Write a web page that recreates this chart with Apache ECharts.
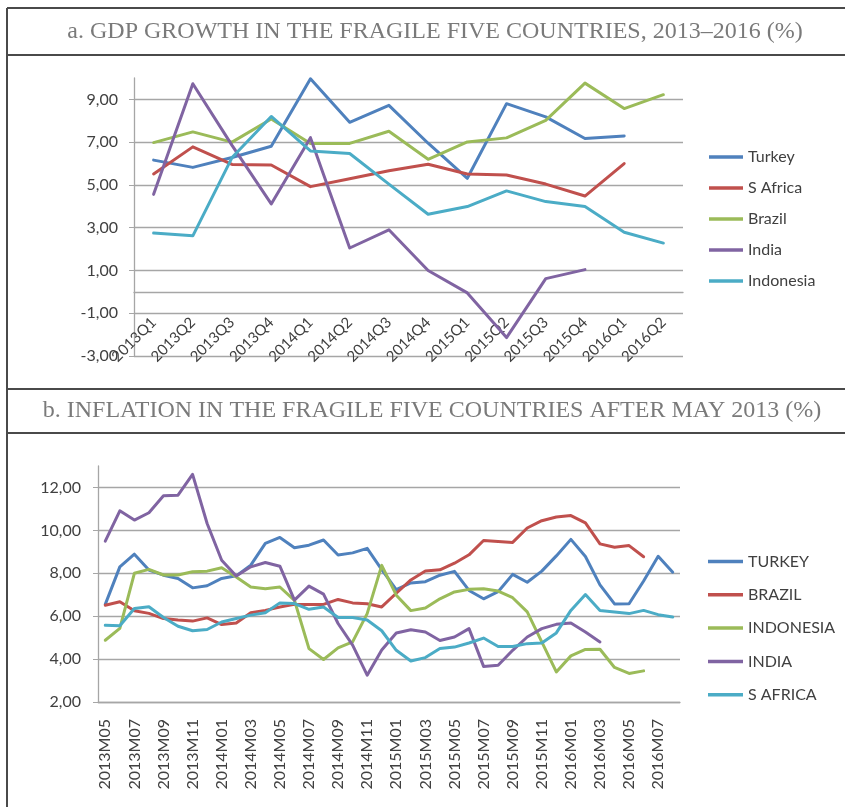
<!DOCTYPE html>
<html>
<head>
<meta charset="utf-8">
<script src="https://cdn.jsdelivr.net/npm/echarts@6/dist/echarts.min.js"></script>
<style>
    html, body { margin: 0; padding: 0; background: #fff; }
    #fragile { width: 845px; height: 807px; }
</style>
</head>
<body>
<div id="fragile"></div>
<script>
// a. GDP growth, quarterly
var quarters = ['2013Q1','2013Q2','2013Q3','2013Q4','2014Q1','2014Q2','2014Q3',
    '2014Q4','2015Q1','2015Q2','2015Q3','2015Q4','2016Q1','2016Q2'];
var gdpTicks = [-3, -1, 1, 3, 5, 7, 9];
var gdpTurkey    = [6.16, 5.82, 6.28, 6.81, 9.96, 7.93, 8.72, 6.95, 5.31, 8.80, 8.18, 7.17, 7.29, null];
var gdpSAfrica   = [5.51, 6.78, 5.96, 5.93, 4.92, 5.29, 5.66, 5.97, 5.51, 5.46, 5.04, 4.48, 6.00, null];
var gdpBrazil    = [6.98, 7.48, 7.00, 8.08, 6.94, 6.94, 7.51, 6.20, 7.01, 7.20, 8.02, 9.76, 8.57, 9.22];
var gdpIndia     = [4.56, 9.73, 6.85, 4.11, 7.21, 2.05, 2.90, 1.00, -0.05, -2.14, 0.62, 1.04, null, null];
var gdpIndonesia = [2.75, 2.62, 6.28, 8.20, 6.59, 6.47, 5.04, 3.63, 3.99, 4.72, 4.22, 3.99, 2.79, 2.28];

// b. inflation, monthly
var months = ['2013M05','2013M06','2013M07','2013M08','2013M09','2013M10','2013M11','2013M12',
    '2014M01','2014M02','2014M03','2014M04','2014M05','2014M06','2014M07','2014M08','2014M09',
    '2014M10','2014M11','2014M12','2015M01','2015M02','2015M03','2015M04','2015M05','2015M06',
    '2015M07','2015M08','2015M09','2015M10','2015M11','2015M12','2016M01','2016M02','2016M03',
    '2016M04','2016M05','2016M06','2016M07','2016M08'];
var infTicks = [2, 4, 6, 8, 10, 12];
var infTurkey = [6.55, 8.30, 8.89, 8.15, 7.91, 7.76, 7.32, 7.42, 7.76, 7.88, 8.38, 9.39, 9.67, 9.19,
    9.31, 9.55, 8.85, 8.95, 9.16, 8.17, 7.24, 7.55, 7.61, 7.91, 8.09, 7.20, 6.81, 7.14, 7.95, 7.58,
    8.10, 8.81, 9.58, 8.78, 7.46, 6.57, 6.58, 7.64, 8.79, 8.05];
var infBrazil = [6.51, 6.67, 6.25, 6.13, 5.89, 5.82, 5.77, 5.92, 5.61, 5.68, 6.16, 6.27, 6.43, 6.55,
    6.54, 6.55, 6.78, 6.62, 6.58, 6.43, 7.07, 7.69, 8.11, 8.16, 8.47, 8.86, 9.53, 9.48, 9.44, 10.11,
    10.45, 10.62, 10.69, 10.35, 9.37, 9.21, 9.29, 8.77, null, null];
var infIndonesia = [4.88, 5.43, 8.00, 8.18, 7.92, 7.92, 8.07, 8.10, 8.26, 7.83, 7.36, 7.28, 7.36, 6.74,
    4.49, 3.98, 4.52, 4.80, 6.12, 8.37, 6.98, 6.26, 6.38, 6.81, 7.13, 7.25, 7.28, 7.17, 6.86, 6.20,
    4.80, 3.40, 4.15, 4.45, 4.46, 3.61, 3.33, 3.45, null, null];
var infIndia = [9.50, 10.91, 10.48, 10.82, 11.61, 11.64, 12.61, 10.32, 8.61, 7.87, 8.30, 8.50, 8.33, 6.75,
    7.40, 7.03, 5.66, 4.65, 3.25, 4.42, 5.22, 5.37, 5.26, 4.87, 5.03, 5.42, 3.66, 3.71, 4.41, 5.03,
    5.42, 5.62, 5.68, 5.26, 4.80, null, null, null, null, null];
var infSAfrica = [5.58, 5.55, 6.36, 6.44, 5.94, 5.53, 5.32, 5.38, 5.73, 5.89, 6.05, 6.16, 6.62, 6.59,
    6.32, 6.43, 5.94, 5.94, 5.82, 5.32, 4.41, 3.91, 4.07, 4.49, 4.56, 4.75, 4.98, 4.59, 4.59, 4.72,
    4.75, 5.22, 6.27, 7.01, 6.27, 6.20, 6.12, 6.27, 6.07, 5.96];

function comma2(v){
    return v.toFixed(2).replace('.', ',');
}

function line(name, data, color, idx){
    return {
        name: name,
        type: 'line',
        xAxisIndex: idx,
        yAxisIndex: idx,
        data: data,
        symbol: 'none',
        showSymbol: false,
        connectNulls: false,
        color: color,
        lineStyle: { width: 3, color: color, cap: 'round', join: 'round' }
    };
}

function draw_fragile_five(){
    var myChart = echarts.init(document.getElementById("fragile"));
    var gray = '#a6a6a6';
    var txt = '#404040';
    var frame = { stroke: '#4a4a4a', lineWidth: 2 };
    var titleFont = { fontFamily: 'Liberation Serif', fontSize: 24, fontWeight: 'normal', color: '#7a7a7a' };
    var option = {
        backgroundColor: '#fff',
        animation: false,
        textStyle: { fontFamily: 'Lato' },
        title: [
            {
                text: 'a. GDP GROWTH IN THE FRAGILE FIVE COUNTRIES, 2013\u20132016 (%)',
                left: 435, top: 20, textAlign: 'center', padding: 0,
                textStyle: titleFont
            },
            {
                text: 'b. INFLATION IN THE FRAGILE FIVE COUNTRIES AFTER MAY 2013 (%)',
                left: 432, top: 399, textAlign: 'center', padding: 0,
                textStyle: titleFont
            }
        ],
        graphic: [
            { type: 'line', shape: { x1: 7, y1: 8, x2: 845, y2: 8 }, style: frame },
            { type: 'line', shape: { x1: 7, y1: 8, x2: 7, y2: 807 }, style: frame },
            { type: 'line', shape: { x1: 7, y1: 55, x2: 845, y2: 55 }, style: frame },
            { type: 'line', shape: { x1: 7, y1: 389, x2: 845, y2: 389 }, style: frame },
            { type: 'line', shape: { x1: 7, y1: 433, x2: 845, y2: 433 }, style: frame }
        ],
        legend: [
            {
                orient: 'vertical', left: 709, top: 149, padding: 0,
                icon: 'rect', itemWidth: 34, itemHeight: 3.5, itemGap: 15,
                textStyle: { fontSize: 16, color: txt, lineHeight: 15 },
                data: ['Turkey', 'S Africa', 'Brazil', 'India', 'Indonesia']
            },
            {
                orient: 'vertical', left: 708, top: 553.5, padding: 0,
                icon: 'rect', itemWidth: 35, itemHeight: 3.5, itemGap: 17.3,
                textStyle: { fontSize: 16, color: txt, lineHeight: 15 },
                data: ['TURKEY', 'BRAZIL', 'INDONESIA', 'INDIA', 'S AFRICA']
            }
        ],
        grid: [
            { left: 134, right: 162, top: 78, bottom: 451 },
            { left: 98, right: 165, top: 466, bottom: 105 }
        ],
        xAxis: [
            {
                type: 'category',
                gridIndex: 0,
                data: quarters,
                boundaryGap: true,
                axisLine: { onZero: true, lineStyle: { color: gray, width: 1.3 } },
                axisTick: { interval: 0, length: 5, lineStyle: { color: gray } },
                axisLabel: { interval: 0, rotate: 45, margin: -36, fontSize: 15, color: txt }
            },
            {
                type: 'category',
                gridIndex: 1,
                data: months,
                boundaryGap: true,
                axisLine: { lineStyle: { color: gray, width: 1.3 } },
                axisTick: { interval: 0, length: 5, lineStyle: { color: gray } },
                axisLabel: { interval: 1, rotate: 90, margin: 17, fontSize: 16, color: txt }
            }
        ],
        yAxis: [
            {
                type: 'value',
                gridIndex: 0,
                min: -3,
                max: 10,
                axisLine: { show: true, lineStyle: { color: gray, width: 1.3 } },
                axisTick: { show: true, length: 5, customValues: gdpTicks, lineStyle: { color: gray } },
                axisLabel: { customValues: gdpTicks, margin: 16, fontSize: 16, color: txt, formatter: comma2 },
                splitLine: { show: true, lineStyle: { color: gray, width: 1.3 } }
            },
            {
                type: 'value',
                gridIndex: 1,
                min: 2,
                max: 13,
                axisLine: { show: true, lineStyle: { color: gray, width: 1.3 } },
                axisTick: { show: true, length: 5, customValues: infTicks, lineStyle: { color: gray } },
                axisLabel: { customValues: infTicks, margin: 17, fontSize: 16, color: txt, formatter: comma2 },
                splitLine: { show: true, lineStyle: { color: gray, width: 1.3 } }
            }
        ],
        series: [
            line('Turkey', gdpTurkey, '#4f81bd', 0),
            line('S Africa', gdpSAfrica, '#c0504d', 0),
            line('Brazil', gdpBrazil, '#9bbb59', 0),
            line('India', gdpIndia, '#8064a2', 0),
            line('Indonesia', gdpIndonesia, '#4bacc6', 0),
            line('TURKEY', infTurkey, '#4f81bd', 1),
            line('BRAZIL', infBrazil, '#c0504d', 1),
            line('INDONESIA', infIndonesia, '#9bbb59', 1),
            line('INDIA', infIndia, '#8064a2', 1),
            line('S AFRICA', infSAfrica, '#4bacc6', 1)
        ]
    };
    myChart.setOption(option);
}

draw_fragile_five();
</script>
</body>
</html>
